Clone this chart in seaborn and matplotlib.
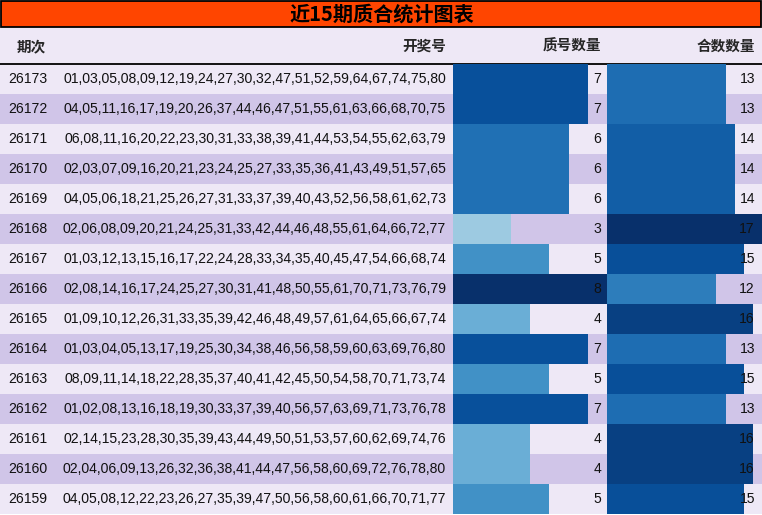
import matplotlib
matplotlib.use("Agg")
import matplotlib.pyplot as plt
import seaborn as sns
import pandas as pd
from matplotlib.patches import Rectangle

# ---------------- data ----------------
title = "近15期质合统计图表"
headers = ["期次", "开奖号", "质号数量", "合数数量"]
periods = ["26173", "26172", "26171", "26170", "26169", "26168", "26167", "26166",
           "26165", "26164", "26163", "26162", "26161", "26160", "26159"]
draws = [
    "01,03,05,08,09,12,19,24,27,30,32,47,51,52,59,64,67,74,75,80",
    "04,05,11,16,17,19,20,26,37,44,46,47,51,55,61,63,66,68,70,75",
    "06,08,11,16,20,22,23,30,31,33,38,39,41,44,53,54,55,62,63,79",
    "02,03,07,09,16,20,21,23,24,25,27,33,35,36,41,43,49,51,57,65",
    "04,05,06,18,21,25,26,27,31,33,37,39,40,43,52,56,58,61,62,73",
    "02,06,08,09,20,21,24,25,31,33,42,44,46,48,55,61,64,66,72,77",
    "01,03,12,13,15,16,17,22,24,28,33,34,35,40,45,47,54,66,68,74",
    "02,08,14,16,17,24,25,27,30,31,41,48,50,55,61,70,71,73,76,79",
    "01,09,10,12,26,31,33,35,39,42,46,48,49,57,61,64,65,66,67,74",
    "01,03,04,05,13,17,19,25,30,34,38,46,56,58,59,60,63,69,76,80",
    "08,09,11,14,18,22,28,35,37,40,41,42,45,50,54,58,70,71,73,74",
    "01,02,08,13,16,18,19,30,33,37,39,40,56,57,63,69,71,73,76,78",
    "02,14,15,23,28,30,35,39,43,44,49,50,51,53,57,60,62,69,74,76",
    "02,04,06,09,13,26,32,36,38,41,44,47,56,58,60,69,72,76,78,80",
    "04,05,08,12,22,23,26,27,35,39,47,50,56,58,60,61,66,70,71,77",
]
prime_counts = [7, 7, 6, 6, 6, 3, 5, 8, 4, 7, 5, 7, 4, 4, 5]
composite_counts = [13, 13, 14, 14, 14, 17, 15, 12, 16, 13, 15, 13, 16, 16, 15]

df = pd.DataFrame({"period": periods, "draw": draws,
                   "prime": prime_counts, "composite": composite_counts})

# ---------------- layout ----------------
W, H = 762, 515
ROW0, ROWH = 64, 30
LIGHT, DARK = "#EEE8F6", "#D0C5E8"
CJK = ["Noto Sans CJK SC", "DejaVu Sans"]
NUM = ["Liberation Sans", "DejaVu Sans"]

sns.set_theme(style="white")
plt.rcParams["font.family"] = CJK

fig = plt.figure(figsize=(W / 100, H / 100), dpi=100)
fig.patch.set_facecolor("white")

ax = fig.add_axes([0, 0, 1, 1])
ax.set_xlim(0, W)
ax.set_ylim(H, 0)
ax.axis("off")

# title bar
ax.add_patch(Rectangle((0.6, 0.6), W - 1.6, 26.5, facecolor="#FF4500",
                       edgecolor="black", linewidth=1.3))
# header background
ax.add_patch(Rectangle((0, 28), W, ROW0 - 28, facecolor=LIGHT, edgecolor="none"))
# row stripes
for i in range(len(periods)):
    ax.add_patch(Rectangle((0, ROW0 + ROWH * i), W, ROWH,
                           facecolor=LIGHT if i % 2 == 0 else DARK, edgecolor="none"))
ax.plot([0, W], [63.5, 63.5], color="black", linewidth=1.3)

# ---------------- bars ----------------
cmap = plt.get_cmap("Blues")
n = len(periods)


def bar_axes(x0, width, col):
    a = fig.add_axes([x0 / W, 1 - (ROW0 + ROWH * n) / H, width / W, ROWH * n / H])
    vmax = df[col].max()
    pal = {p: cmap(v / vmax) for p, v in zip(df["period"], df[col])}
    sns.barplot(data=df, x=col, y="period", hue="period", palette=pal,
                orient="h", width=1.0, saturation=1, legend=False,
                linewidth=0, ax=a)
    a.set_xlim(0, vmax)
    a.set_ylim(n - 0.5, -0.5)
    a.set_facecolor("none")
    a.axis("off")
    return a


bar_axes(453, 154, "prime")
bar_axes(607, 155, "composite")

# ---------------- text overlay ----------------
tx = fig.add_axes([0, 0, 1, 1])
tx.set_xlim(0, W)
tx.set_ylim(H, 0)
tx.set_facecolor("none")
tx.axis("off")

tx.text(382, 14, title, ha="center", va="center", fontsize=14.5,
        fontweight="bold", family=CJK, color="black")

hy = 46
HFS = 10.5
tx.text(17, hy, headers[0], ha="left", va="center", fontsize=HFS, fontweight="bold", family=CJK)
tx.text(446, hy, headers[1], ha="right", va="center", fontsize=HFS, fontweight="bold", family=CJK)
tx.text(601, hy, headers[2], ha="right", va="center", fontsize=HFS, fontweight="bold", family=CJK)
tx.text(755, hy, headers[3], ha="right", va="center", fontsize=HFS, fontweight="bold", family=CJK)

FS = 10.1
for i, row in df.iterrows():
    y = ROW0 + ROWH * i + ROWH / 2
    tx.text(8, y, row["period"], ha="left", va="center", fontsize=FS, family=NUM, color="#111111")
    tx.text(446, y, row["draw"], ha="right", va="center", fontsize=FS, family=NUM, color="#111111")
    tx.text(601, y, str(row["prime"]), ha="right", va="center", fontsize=FS, family=NUM, color="#111111")
    tx.text(755, y, str(row["composite"]), ha="right", va="center", fontsize=FS, family=NUM, color="#111111")

fig.savefig("out.png", dpi=100)
